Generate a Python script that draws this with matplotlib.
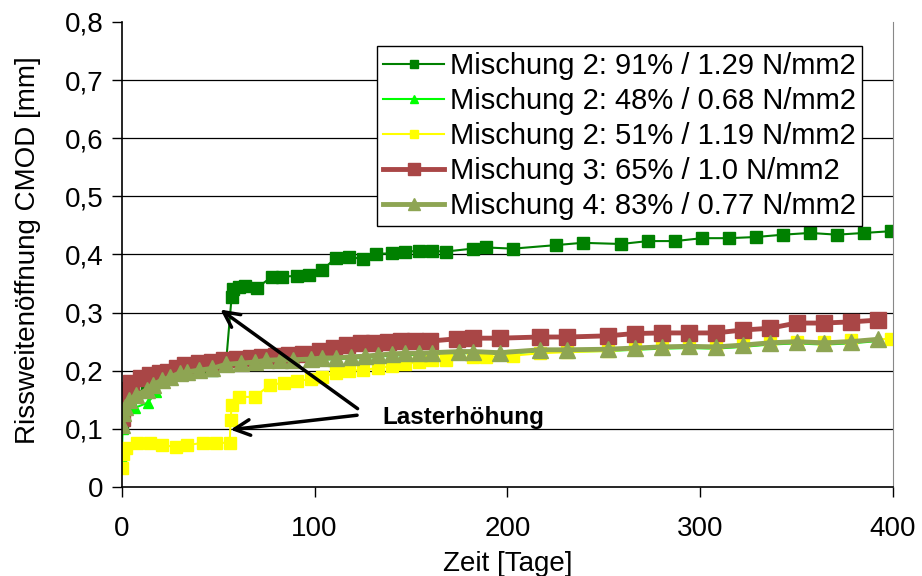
import matplotlib
matplotlib.use("Agg")
import matplotlib.pyplot as plt
from matplotlib.ticker import FixedLocator

plt.rcParams['font.family'] = ['Liberation Sans', 'DejaVu Sans']

# Mischung 2: 91% / 1.29 N/mm2
tage_m2_91 = [0, 0.5, 1.5, 4, 7.5, 13, 16, 21, 25, 30, 34, 40, 47, 54, 57,
              57.5, 61, 64, 70, 78, 83, 91, 97, 104, 111, 118, 125, 132, 140,
              147, 154, 161, 168, 182, 189, 203, 225, 239, 259, 273, 287, 301,
              315, 329, 343, 357, 371, 385, 399]
cmod_m2_91 = [0.105, 0.125, 0.136, 0.148, 0.156, 0.165, 0.174, 0.182, 0.187,
              0.194, 0.196, 0.199, 0.202, 0.209, 0.327,
              0.340, 0.344, 0.345, 0.342, 0.362, 0.362, 0.363, 0.365, 0.373,
              0.394, 0.396, 0.392, 0.401, 0.402, 0.405, 0.406, 0.406, 0.405,
              0.410, 0.412, 0.410, 0.416, 0.420, 0.418, 0.423, 0.423, 0.428,
              0.428, 0.430, 0.434, 0.437, 0.434, 0.437, 0.440]

# Mischung 2: 48% / 0.68 N/mm2
tage_m2_48 = [0, 0.5, 1.5, 4, 6.7, 13.5, 18, 21, 25, 30, 34, 40, 47, 54, 62,
              69, 75, 82, 89, 98, 104, 111, 119, 126, 133, 140, 147, 154, 161,
              175, 182, 196, 217, 231, 252, 266, 280, 294, 308, 322, 336, 350,
              364, 378, 392]
cmod_m2_48 = [0.05, 0.10, 0.13, 0.138, 0.136, 0.145, 0.163, 0.180, 0.186,
              0.193, 0.196, 0.199, 0.202, 0.208, 0.210, 0.212, 0.215, 0.216,
              0.216, 0.217, 0.219, 0.220, 0.221, 0.222, 0.224, 0.226, 0.227,
              0.227, 0.228, 0.230, 0.230, 0.229, 0.233, 0.233, 0.234, 0.236,
              0.238, 0.239, 0.238, 0.241, 0.245, 0.247, 0.245, 0.247, 0.251]

# Mischung 2: 51% / 1.19 N/mm2
tage_m2_51 = [0, 0.5, 2, 8, 14.5, 21, 28, 34, 42, 49, 56, 56.5, 57, 61, 69,
              77, 84, 91, 98, 104, 111, 118, 125, 133, 140, 147, 154, 161, 168,
              182, 189, 203, 217, 231, 252, 266, 280, 294, 308, 322, 336, 350,
              364, 378, 399]
cmod_m2_51 = [0.033, 0.057, 0.067, 0.075, 0.075, 0.072, 0.069, 0.072, 0.076,
              0.076, 0.076, 0.115, 0.141, 0.155, 0.155, 0.176, 0.179, 0.182,
              0.186, 0.190, 0.196, 0.200, 0.201, 0.205, 0.208, 0.212, 0.215,
              0.218, 0.219, 0.223, 0.224, 0.226, 0.230, 0.232, 0.234, 0.237,
              0.240, 0.242, 0.243, 0.245, 0.248, 0.250, 0.250, 0.252, 0.255]

# Mischung 3: 65% / 1.0 N/mm2
tage_m3 = [0, 0, 1.5, 5, 10, 14.5, 20, 24, 28.5, 33, 40, 47, 53, 60, 67, 73,
           80, 87, 94, 103, 110, 117, 124, 131, 138, 145, 152, 160, 174, 182,
           196, 217, 231, 252, 266, 280, 294, 308, 322, 336, 350, 364, 378,
           392]
cmod_m3 = [0.119, 0.155, 0.167, 0.179, 0.187, 0.193, 0.196, 0.198, 0.205,
           0.210, 0.213, 0.215, 0.218, 0.220, 0.222, 0.224, 0.225, 0.227,
           0.229, 0.234, 0.239, 0.244, 0.248, 0.248, 0.250, 0.251, 0.251,
           0.251, 0.255, 0.256, 0.256, 0.258, 0.258, 0.260, 0.264, 0.265,
           0.265, 0.265, 0.270, 0.273, 0.282, 0.282, 0.284, 0.287]

# Mischung 4: 83% / 0.77 N/mm2
tage_m4 = [0, 0.5, 1.5, 4, 7.5, 13, 16, 21, 25, 30, 34, 40, 47, 54, 62, 69,
           75, 82, 89, 98, 104, 111, 119, 126, 133, 140, 147, 154, 161, 175,
           182, 196, 217, 231, 252, 266, 280, 294, 308, 322, 336, 350, 364,
           378, 392]
cmod_m4 = [0.107, 0.127, 0.138, 0.150, 0.158, 0.167, 0.176, 0.184, 0.189,
           0.196, 0.198, 0.201, 0.204, 0.211, 0.213, 0.215, 0.218, 0.219,
           0.219, 0.220, 0.222, 0.222, 0.224, 0.225, 0.227, 0.229, 0.230,
           0.230, 0.231, 0.233, 0.233, 0.231, 0.236, 0.236, 0.237, 0.239,
           0.241, 0.242, 0.241, 0.244, 0.248, 0.250, 0.248, 0.250, 0.254]

labels = ['Mischung 2: 91% / 1.29 N/mm2', 'Mischung 2: 48% / 0.68 N/mm2',
          'Mischung 2: 51% / 1.19 N/mm2', 'Mischung 3: 65% / 1.0 N/mm2',
          'Mischung 4: 83% / 0.77 N/mm2']
y_ticks = [0, 0.1, 0.2, 0.3, 0.4, 0.5, 0.6, 0.7, 0.8]
y_ticklabels = ['0', '0,1', '0,2', '0,3', '0,4', '0,5', '0,6', '0,7', '0,8']
x_ticks = [0, 100, 200, 300, 400]

fig = plt.figure(figsize=(9.22, 5.76), dpi=100)
ax = fig.add_subplot(111)
fig.subplots_adjust(left=0.132, right=0.9685, top=0.962, bottom=0.1545)

ax.plot(tage_m2_91, cmod_m2_91, color='#008000', lw=1.5, marker='s', ms=8.5,
        label=labels[0])
ax.plot(tage_m2_48, cmod_m2_48, color='#00FF00', lw=1.5, marker='^', ms=7,
        label=labels[1])
ax.plot(tage_m2_51, cmod_m2_51, color='#FFFF00', lw=1.5, marker='s', ms=8.5,
        label=labels[2])
ax.plot(tage_m3, cmod_m3, color='#A94646', lw=3.5, marker='s', ms=11.5,
        label=labels[3])
ax.plot(tage_m4, cmod_m4, color='#8EA553', lw=3.5, marker='^', ms=11,
        label=labels[4])

ax.set_xlim(0, 400)
ax.set_ylim(0, 0.8)
ax.xaxis.set_major_locator(FixedLocator(x_ticks))
ax.set_yticks(y_ticks)
ax.set_yticklabels(y_ticklabels)
ax.tick_params(axis='both', labelsize=20, length=7, width=1, direction='out')
ax.tick_params(axis='y', pad=6)
ax.tick_params(axis='x', pad=14)
for t in y_ticks[1:-1]:
    ax.axhline(t, color='black', lw=0.9, zorder=0)

ax.spines['top'].set_visible(False)
ax.spines['right'].set_color('#888888')
ax.spines['left'].set_linewidth(1.2)
ax.spines['bottom'].set_linewidth(1.2)

ax.set_xlabel('Zeit [Tage]', fontsize=20, labelpad=6)
ax.set_ylabel('Rissweitenöffnung CMOD [mm]', fontsize=20)
ax.yaxis.set_label_coords(-0.104, 0.51)

leg = ax.legend(loc='upper right', bbox_to_anchor=(0.96, 0.948), fontsize=21,
                fancybox=False, edgecolor='black', framealpha=1,
                borderaxespad=0, handlelength=2.1, markerscale=0.75,
                labelspacing=0.24, handletextpad=0.2, borderpad=0.2)
leg.get_frame().set_linewidth(1.0)

arrow = dict(arrowstyle='->', lw=2.5, color='black', mutation_scale=28)
ax.annotate('', xy=(50, 0.308), xytext=(123.5, 0.132), arrowprops=arrow)
ax.annotate('', xy=(55, 0.098), xytext=(123.5, 0.124), arrowprops=arrow)
ax.text(135, 0.119, 'Lasterhöhung', fontsize=17.5, fontweight='bold',
        ha='left', va='center')

fig.savefig('out.png', dpi=100)
